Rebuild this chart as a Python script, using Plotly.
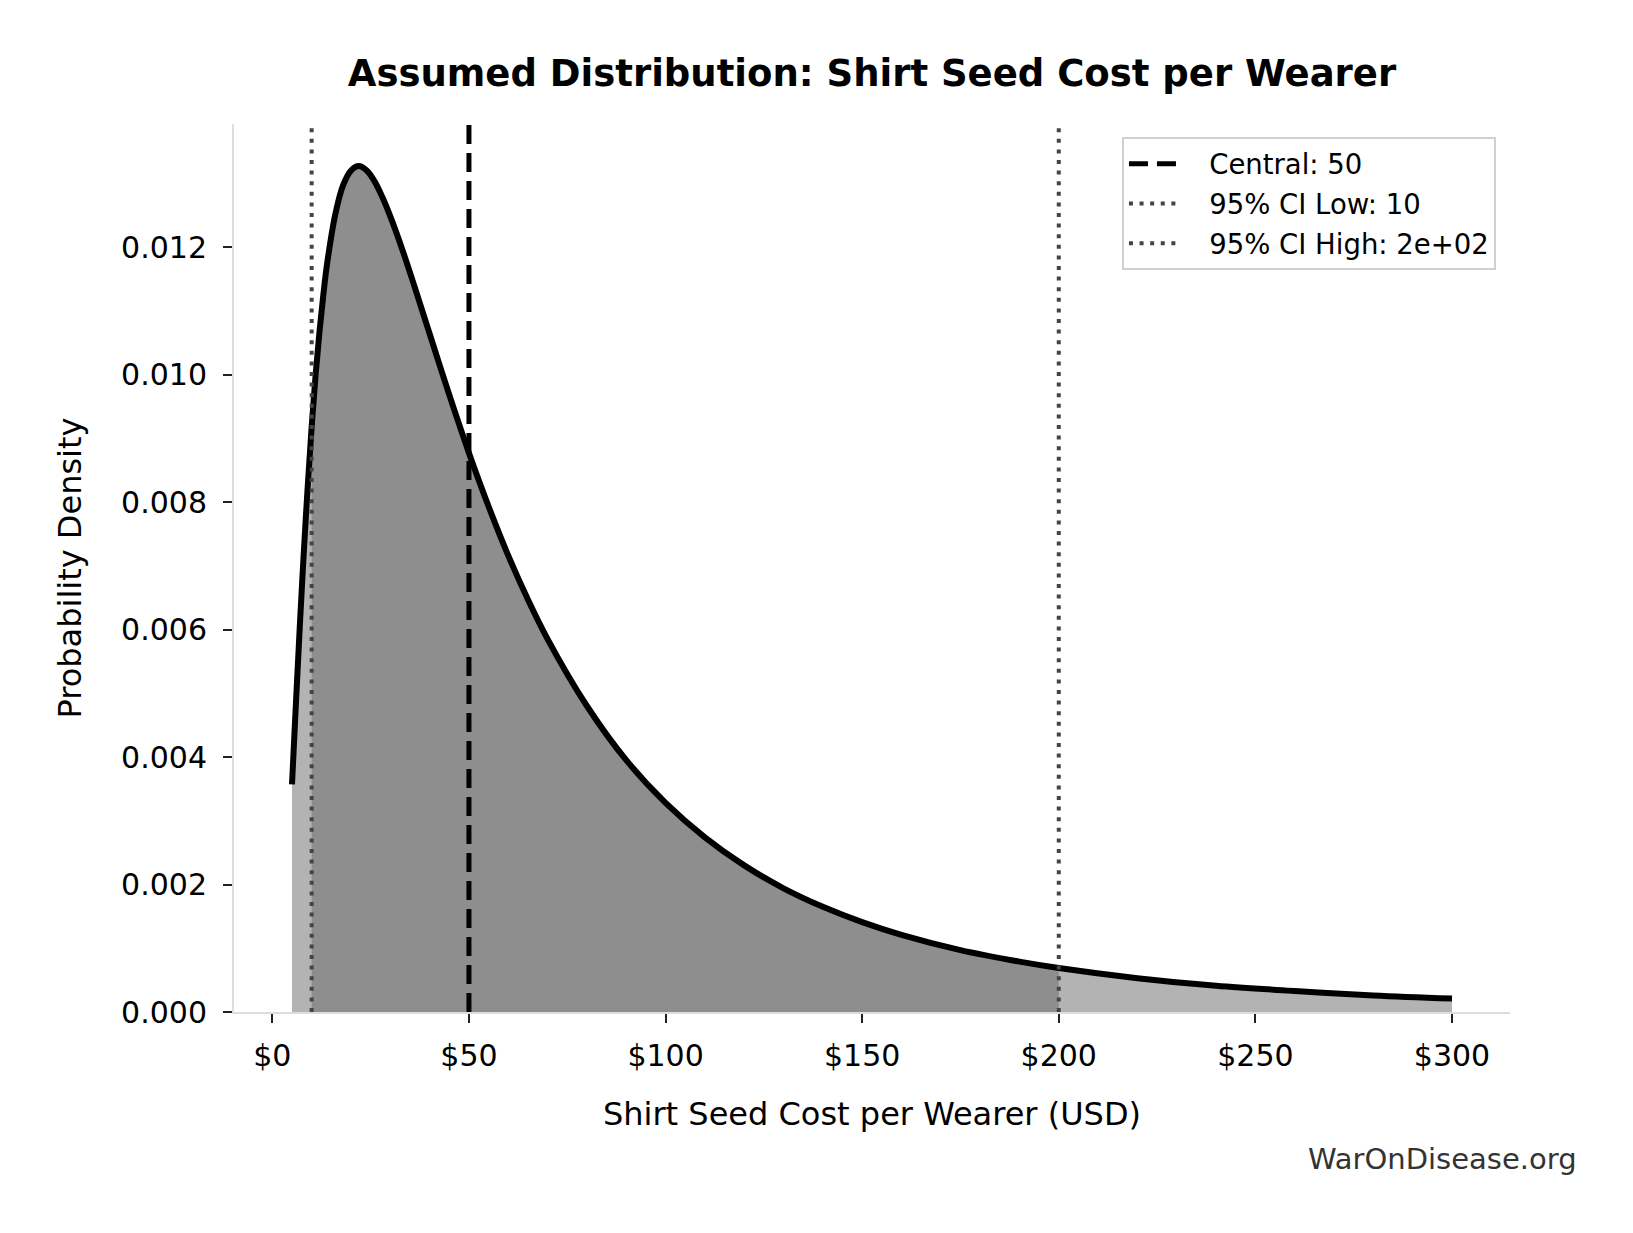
import plotly.graph_objects as go

# values
cost_usd = [5, 5.5, 6, 6.5, 7, 7.5, 8, 9, 10, 11,
            12, 13, 14, 16, 18, 20, 22, 24, 26, 28,
            30, 33, 36, 40, 45, 50, 55, 60, 65, 70,
            80, 90, 100, 110, 120, 130, 140, 150, 160, 175,
            190, 200, 220, 240, 260, 280, 300]
density = [0.00357, 0.00421, 0.00484, 0.00546, 0.00607, 0.00665, 0.00721, 0.00825, 0.00918, 0.00999,
           0.01068, 0.01127, 0.01177, 0.01251, 0.01297, 0.01320, 0.01327, 0.01320, 0.01303, 0.01278,
           0.01248, 0.01197, 0.01141, 0.01064, 0.00968, 0.00877, 0.00793, 0.00716, 0.00647, 0.00585,
           0.00480, 0.00395, 0.00328, 0.00274, 0.00230, 0.00194, 0.00165, 0.00141, 0.00121, 0.00097,
           0.00079, 0.00069, 0.00053, 0.00041, 0.00033, 0.00026, 0.00021]

central = 50
ci_low = 10
ci_high = 200

x_tickvals = [0, 50, 100, 150, 200, 250, 300]
x_ticktext = ['$0', '$50', '$100', '$150', '$200', '$250', '$300']
y_tickvals = [0.000, 0.002, 0.004, 0.006, 0.008, 0.010, 0.012]

x_range = [-9.75, 314.75]
y_range = [0, 0.01393]

FONT = 'DejaVu Sans'
PAD = '\u00a0\u00a0\u00a0'  # gap between legend sample and its text

# part of the curve inside the 95% CI
ci_x = [x for x in cost_usd if ci_low <= x <= ci_high]
ci_y = [d for x, d in zip(cost_usd, density) if ci_low <= x <= ci_high]

fig = go.Figure()

fig.add_trace(go.Scatter(x=cost_usd, y=density, mode='lines', fill='tozeroy',
                         fillcolor='#b3b3b3', line=dict(width=0, shape='spline'),
                         showlegend=False, hoverinfo='skip'))
fig.add_trace(go.Scatter(x=ci_x, y=ci_y, mode='lines', fill='tozeroy',
                         fillcolor='#8e8e8e', line=dict(width=0, shape='spline'),
                         showlegend=False, hoverinfo='skip'))
fig.add_trace(go.Scatter(x=cost_usd, y=density, mode='lines',
                         line=dict(color='black', width=6, shape='spline'),
                         showlegend=False))

# vertical reference lines (each in its own legend group so rows get a small gap)
fig.add_trace(go.Scatter(x=[central, central], y=y_range, mode='lines',
                         name=f'{PAD}Central: {central}', legendgroup='a',
                         line=dict(color='black', width=5, dash='19px,9px')))
fig.add_trace(go.Scatter(x=[ci_low, ci_low], y=y_range, mode='lines',
                         name=f'{PAD}95% CI Low: {ci_low}', legendgroup='b',
                         line=dict(color='#444444', width=4, dash='4px,6.6px')))
fig.add_trace(go.Scatter(x=[ci_high, ci_high], y=y_range, mode='lines',
                         name=f'{PAD}95% CI High: 2e+02', legendgroup='c',
                         line=dict(color='#444444', width=4, dash='4px,6.6px')))

fig.update_layout(
    width=1633, height=1233,
    margin=dict(l=226, r=131, t=116, b=229),
    paper_bgcolor='white', plot_bgcolor='white',
    font=dict(family=FONT, color='black'),
    title=dict(text='<b>Assumed Distribution: Shirt Seed Cost per Wearer</b>',
               x=0.5, xref='paper', xanchor='center',
               y=1 - 65.5 / 1233, yref='container', yanchor='middle',
               font=dict(size=37, family=FONT, color='black')),
    xaxis=dict(range=x_range, tickvals=x_tickvals, ticktext=x_ticktext,
               showgrid=False, zeroline=False,
               showline=True, linecolor='#dddddd', linewidth=2,
               ticks='outside', ticklen=9, tickwidth=2, tickcolor='#222222',
               tickfont=dict(size=30), ticklabelstandoff=7,
               title=dict(text='Shirt Seed Cost per Wearer (USD)', font=dict(size=32), standoff=31)),
    yaxis=dict(range=y_range, tickvals=y_tickvals, tickformat='.3f',
               showgrid=False, zeroline=False,
               showline=True, linecolor='#dddddd', linewidth=2,
               ticks='outside', ticklen=9, tickwidth=2, tickcolor='#222222',
               tickfont=dict(size=30), ticklabelstandoff=10,
               title=dict(text='Probability Density', font=dict(size=32), standoff=30)),
    legend=dict(x=0.989, y=0.985, xanchor='right', yanchor='top',
                bgcolor='white', bordercolor='#d0d0d0', borderwidth=2,
                itemwidth=49, tracegroupgap=1,
                font=dict(size=27.5, family=FONT, color='black')),
    annotations=[dict(text='WarOnDisease.org', xref='paper', yref='paper',
                      x=1.054, y=-0.165, xanchor='right', yanchor='middle',
                      showarrow=False, font=dict(size=29, family=FONT, color='#333333'))],
)

fig.write_html("out.html")
